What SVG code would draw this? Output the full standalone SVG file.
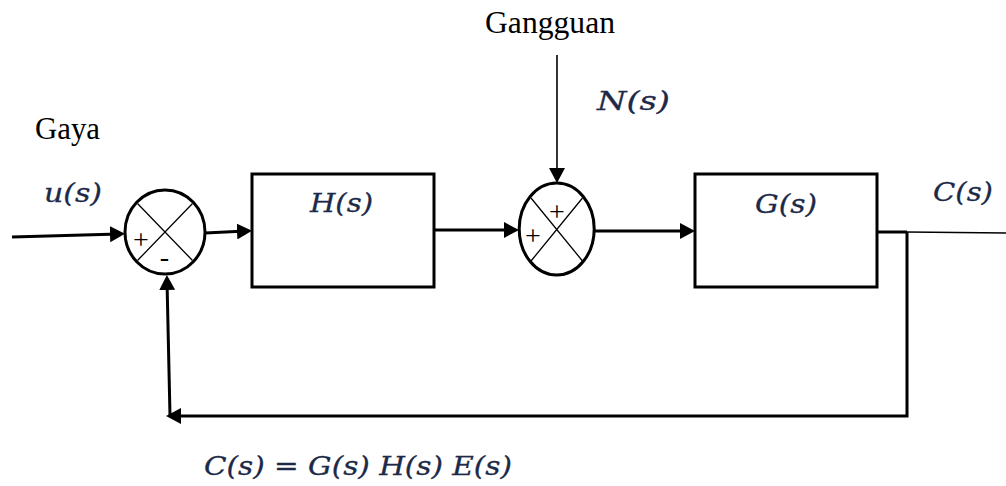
<svg xmlns="http://www.w3.org/2000/svg" width="1006" height="486" viewBox="0 0 1006 486">
<style>
.bg{fill:#ffffff}
.box{fill:#ffffff;stroke:#000;stroke-width:3}
.sum{fill:#ffffff;stroke:#000;stroke-width:3}
.x{stroke:#000;stroke-width:1.3;fill:none}
.wire{stroke:#000;stroke-width:3;fill:none}
.thin{stroke:#000;stroke-width:1.6;fill:none}
.lbl{font-family:'Liberation Serif',serif;font-size:31px;fill:#000}
.sign{font-family:'Liberation Serif',serif;font-size:28px;fill:#000;text-anchor:middle}
.math{font-family:'DejaVu Serif',serif;font-style:italic;font-size:26px;fill:#1c2a48;stroke:#1c2a48;stroke-width:0.3}
</style>
<defs>
<marker id="arr" viewBox="0 0 15 16" refX="9" refY="8" markerWidth="15" markerHeight="16" markerUnits="userSpaceOnUse" orient="auto">
<path d="M0,0 L15,8 L0,16 z" fill="#000"/>
</marker>
</defs>
<rect class="bg" x="0" y="0" width="1006" height="486"/>
<g id="connectors">
<path class="wire" d="M12,237 L119,234" marker-end="url(#arr)"/>
<path class="wire" d="M205,233 L246,231" marker-end="url(#arr)"/>
<path class="wire" d="M434,230 L513,230" marker-end="url(#arr)"/>
<path class="wire" d="M594,231 L689,231" marker-end="url(#arr)"/>
<path class="thin" d="M557,55 L557,177" marker-end="url(#arr)"/>
<path class="wire" d="M877,232 L907,232"/>
<path class="thin" d="M907,232 L1006,233"/>
<path class="wire" d="M907,232 L907,416 L172,416" marker-end="url(#arr)"/>
<path class="wire" d="M170,416 L167,281" marker-end="url(#arr)"/>
</g>
<g id="sum1">
<ellipse class="sum" cx="165" cy="232" rx="40" ry="42"/>
<path class="x" d="M137.5,203.5 L192.5,260.5 M192.5,203.5 L137.5,260.5"/>
<text class="sign" x="141" y="249">+</text>
<text class="sign" x="164.5" y="266">-</text>
</g>
<g id="block-H">
<rect class="box" x="252" y="174" width="182" height="113"/>
<text class="math" x="310" y="211.5" textLength="63" lengthAdjust="spacingAndGlyphs">H(s)</text>
</g>
<g id="sum2">
<ellipse class="sum" cx="556.7" cy="229" rx="37.5" ry="46"/>
<path class="x" d="M531,198 L582.5,261 M582.5,198 L531,261"/>
<text class="sign" x="557" y="221">+</text>
<text class="sign" x="533" y="244.5">+</text>
</g>
<g id="block-G">
<rect class="box" x="695" y="174" width="182" height="113"/>
<text class="math" x="755" y="213" textLength="62" lengthAdjust="spacingAndGlyphs">G(s)</text>
</g>
<g id="labels">
<text class="lbl" x="35" y="139" textLength="65" lengthAdjust="spacingAndGlyphs">Gaya</text>
<text class="lbl" x="485" y="33" textLength="130" lengthAdjust="spacingAndGlyphs">Gangguan</text>
<text class="math" x="44" y="201.5" textLength="58" lengthAdjust="spacingAndGlyphs">u(s)</text>
<text class="math" x="597" y="110" textLength="73" lengthAdjust="spacingAndGlyphs">N(s)</text>
<text class="math" x="933" y="201" textLength="60" lengthAdjust="spacingAndGlyphs">C(s)</text>
<text class="math" x="204" y="475" textLength="308" lengthAdjust="spacingAndGlyphs">C(s) = G(s) H(s) E(s)</text>
</g>
</svg>
